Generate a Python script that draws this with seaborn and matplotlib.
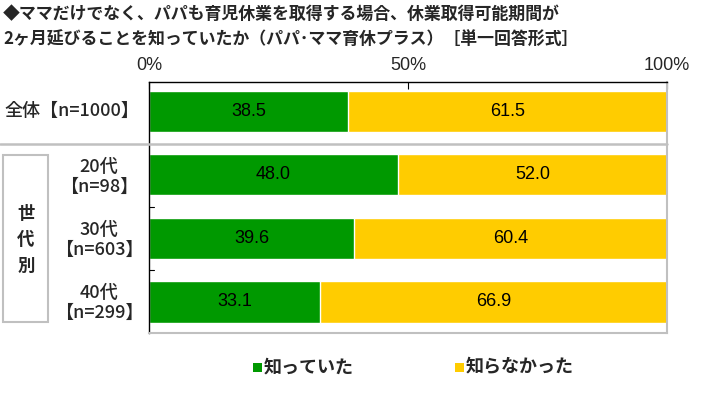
import matplotlib
matplotlib.use("Agg")
import matplotlib.pyplot as plt
import seaborn as sns
import pandas as pd
from matplotlib.patches import Rectangle
from matplotlib.lines import Line2D

categories = ["全体", "20代", "30代", "40代"]
knew = [38.5, 48.0, 39.6, 33.1]
not_knew = [61.5, 52.0, 60.4, 66.9]
series_names = ["知っていた", "知らなかった"]
xtick_labels = ["0%", "50%", "100%"]

GREEN = "#009900"
YELLOW = "#FFCC00"

sns.set_theme(style="white")
plt.rcParams['font.family'] = ['Noto Sans CJK JP', 'DejaVu Sans']
LAT = ['Liberation Sans', 'DejaVu Sans']

df = pd.DataFrame({"cat": categories, "knew": knew,
                   "total": [a + b for a, b in zip(knew, not_knew)]})

fig = plt.figure(figsize=(7.03, 3.94), dpi=100)
W, H = 703, 394
ax = fig.add_axes([149 / W, 1 - 333 / H, (667 - 149) / W, (333 - 82) / H])

sns.barplot(data=df, y="cat", x="total", color=YELLOW, orient="h",
            width=0.65, ax=ax, saturation=1)
sns.barplot(data=df, y="cat", x="knew", color=GREEN, orient="h",
            width=0.65, ax=ax, saturation=1)

ax.set_xlim(0, 100)
ax.set_ylim(3.49, -0.46)
ax.set_xlabel("")
ax.set_ylabel("")
ax.set_yticks([])
ax.set_xticks([0, 50, 100])
ax.set_xticklabels(xtick_labels)
ax.xaxis.tick_top()
ax.tick_params(axis="x", which="both", direction="in", length=5, width=0.8,
               color="black", labelsize=13, pad=6, top=True, bottom=False)
for lbl in ax.get_xticklabels():
    lbl.set_family(LAT)

for s in ["left", "top"]:
    ax.spines[s].set_color("black")
    ax.spines[s].set_linewidth(1)
for s in ["right", "bottom"]:
    ax.spines[s].set_color("#C0C0C0")
    ax.spines[s].set_linewidth(1.5)

# small inner ticks on left spine between group rows
for yv in [1.5, 2.5]:
    ax.plot([0, 1.0], [yv, yv], color="black", lw=0.8, clip_on=False)

# value labels
for i, (a, b) in enumerate(zip(knew, not_knew)):
    ax.text(a / 2, i, f"{a:.1f}", ha="center", va="center", fontsize=13,
            color="black", family=LAT)
    ax.text(a + b / 2, i, f"{b:.1f}", ha="center", va="center", fontsize=13,
            color="black", family=LAT)

# separator line
fig.add_artist(Line2D([0 / W, 667 / W], [1 - 144 / H, 1 - 144 / H],
                      color="#C0C0C0", lw=1.8))

# title
fig.text(3 / W, 1 - 14 / H, "◆ママだけでなく、パパも育児休業を取得する場合、休業取得可能期間が",
         fontsize=12.2, fontweight="bold", ha="left", va="center")
fig.text(3 / W, 1 - 40 / H, "2ヶ月延びることを知っていたか（パパ･ママ育休プラス）［単一回答形式］",
         fontsize=12.2, fontweight="bold", ha="left", va="center")

# row labels
fig.text(72 / W, 1 - 111 / H, "全体【n=1000】", fontsize=13, fontweight="medium",
         ha="center", va="center")
row_labels = ["20代\n【n=98】", "30代\n【n=603】", "40代\n【n=299】"]
for lab, yc in zip(row_labels, [177, 240, 303]):
    fig.text(99 / W, 1 - yc / H, lab, fontsize=13, fontweight="medium",
             ha="center", va="center", linespacing=1.1)

fig.add_artist(Rectangle((3 / W, 1 - 322 / H), 45 / W, 167 / H,
                         fill=False, edgecolor="#C0C0C0", lw=1.5))
fig.text(26 / W, 1 - 240 / H, "世\n代\n別", fontsize=12.5, fontweight="bold",
         ha="center", va="center", linespacing=1.6)

# legend
for xs, col, name in [(253, GREEN, series_names[0]), (455, YELLOW, series_names[1])]:
    fig.add_artist(Rectangle((xs / W, 1 - 372 / H), 9 / W, 9 / H,
                             facecolor=col, edgecolor="none"))
    fig.text((xs + 11) / W, 1 - 367 / H, name, fontsize=13, fontweight="bold",
             ha="left", va="center")

fig.savefig("out.png", dpi=100)
